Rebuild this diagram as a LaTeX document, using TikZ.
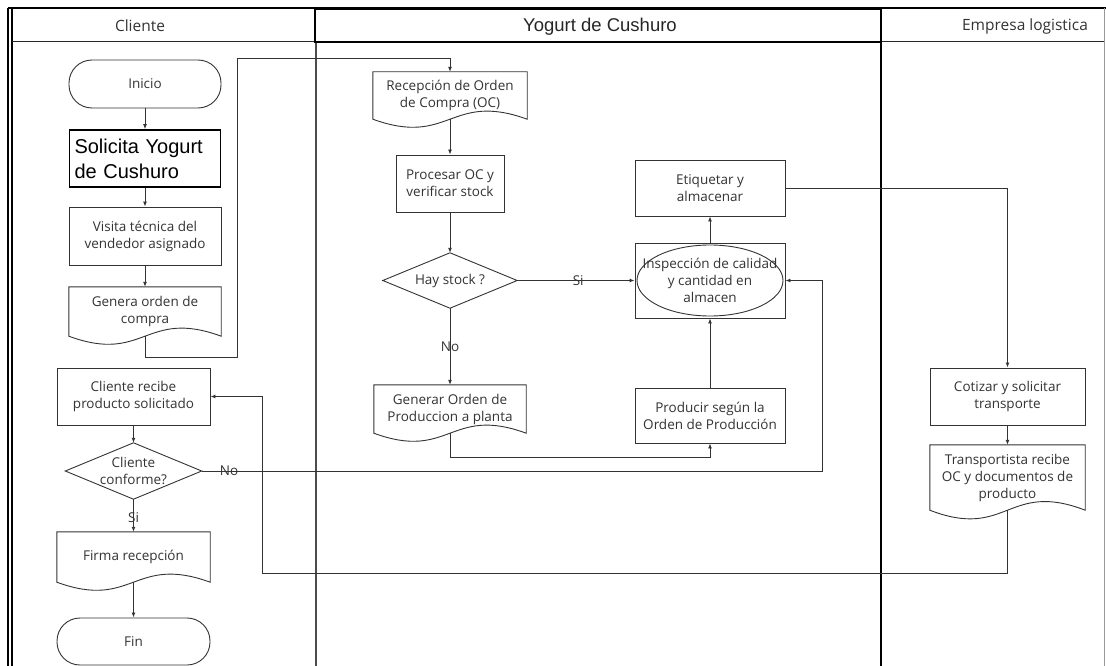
\documentclass[tikz,border=0pt]{standalone}
\usepackage{fontspec}
\setmainfont{Open Sans}
\newfontfamily\arialfont{Liberation Sans}
\usetikzlibrary{arrows.meta,calc}

% document symbol: flat top, wavy bottom edge
\newcommand\docpath[2]{%
  \draw[shapeline] (#1.north west) -- (#1.south west)
    .. controls ($(#1.south)+(0,#2)$) and ($(#1.south)+(0,-#2)$) .. (#1.south east)
    -- (#1.north east) -- cycle;}
% decision symbol drawn on the side midpoints of a plain node
\newcommand\diamondpath[1]{%
  \draw[shapeline] (#1.north) -- (#1.east) -- (#1.south) -- (#1.west) -- cycle;}

\tikzset{
  lbl/.style={font=\fontsize{13.5}{17}\selectfont, text=black!80, align=center, inner sep=0pt},
  shapeline/.style={draw=black!80, line width=0.9pt},
  box/.style={lbl, rectangle, shapeline},
  term/.style={box, rounded corners=23pt},
  plain/.style={lbl, rectangle},
  conn/.style={draw=black!80, line width=0.9pt, -{Latex[length=5pt,width=4pt]}},
  wire/.style={draw=black!80, line width=0.9pt},
  head/.style={font=\fontsize{15.5}{18}\selectfont, text=black!80, inner sep=0pt},
}

\begin{document}
\begin{tikzpicture}[x=1pt,y=-1pt]
\useasboundingbox (0,0) rectangle (1106,666);

% ---- swimlane frame ----
\draw[black, line width=2pt] (8,8) -- (1106,8);
\draw[black, line width=1.2pt] (8,8) -- (8,666);
\draw[black, line width=1.2pt] (12,8) -- (12,666);
\draw[black!85, line width=1pt] (12,42) -- (1104,42);
\draw[black!70, line width=1.4pt] (316,42) -- (316,666);
\draw[black, line width=2pt] (881,9) -- (881,666);
\draw[black!40, line width=0.8pt] (1104.5,8) -- (1104.5,666);
\draw[black, line width=2pt] (315,9) rectangle (881,42);

% ---- lane titles ----
\node[head] (hcli) at (140,26) {Cliente};
\node[font=\arialfont\fontsize{18.5}{22}\selectfont, text=black!85, inner sep=0pt] (hyog) at (600,27) {Yogurt de Cushuro};
\node[head] (hemp) at (1025,26) {Empresa logistica};

% ---- Cliente ----
\node[term, minimum width=152pt, minimum height=48pt] (inicio) at (145,84) {Inicio};
\node[rectangle, draw=black, line width=1.7pt, minimum width=151pt, minimum height=57pt,
      text width=141pt, inner xsep=5pt, inner ysep=0pt, align=left,
      font=\arialfont\fontsize{20}{25}\selectfont] (solicita) at (145,158.5)
      {Solicita Yogurt\\de Cushuro};
\node[box, minimum width=152pt, minimum height=58pt] (visita) at (145,236)
      {Visita técnica del\\vendedor asignado};
\node[plain, minimum width=152pt, minimum height=49pt] (genera) at (145,311.5)
      {Genera orden de\\compra};
\node[box, minimum width=153pt, minimum height=57pt] (recibe) at (133.5,396.5)
      {Cliente recibe\\producto solicitado};
\node[plain, minimum width=136pt, minimum height=56pt] (conforme) at (133.5,471)
      {Cliente\\conforme?};
\node[plain, minimum width=153pt, minimum height=50pt] (firma) at (133.5,557)
      {Firma recepción};
\node[term, minimum width=153pt, minimum height=47pt] (fin) at (133.5,641.5) {Fin};

% ---- Yogurt de Cushuro ----
\node[plain, minimum width=154pt, minimum height=47pt] (recepcion) at (450,95.5)
      {Recepción de Orden\\de Compra (OC)};
\node[box, minimum width=108pt, minimum height=57pt] (procesar) at (450,183.5)
      {Procesar OC y\\verificar stock};
\node[plain, minimum width=134pt, minimum height=55pt] (stock) at (450,280.5)
      {Hay stock ?};
\node[plain, minimum width=152pt, minimum height=48pt] (generar) at (450,409)
      {Generar Orden de\\Produccion a planta};
\node[box, minimum width=150pt, minimum height=56pt] (etiquetar) at (710,188)
      {Etiquetar y\\almacenar};
\node[box, minimum width=150pt, minimum height=75pt] (inspeccion) at (710,280.5)
      {Inspección de calidad\\y cantidad en\\almacen};
\node[box, minimum width=150pt, minimum height=55pt] (producir) at (710,415.5)
      {Producir según la\\Orden de Producción};

% ---- Empresa logistica ----
\node[box, minimum width=155pt, minimum height=57pt] (cotizar) at (1007.5,396.5)
      {Cotizar y solicitar\\transporte};
\node[plain, minimum width=155pt, minimum height=65pt] (transp) at (1007.5,477.5)
      {Transportista recibe\\OC y documentos de\\producto};

% ---- symbol outlines ----
\docpath{genera}{28}
\docpath{firma}{28}
\docpath{recepcion}{28}
\docpath{generar}{28}
\docpath{transp}{30}
\diamondpath{conforme}
\diamondpath{stock}
\draw[shapeline] (inspeccion.center) ellipse [x radius=73pt, y radius=35.5pt];

% ---- connectors ----
\coordinate (gA) at (237,357);
\coordinate (gB) at (237,58);
\coordinate (gp) at (450,457);
\coordinate (tA) at (262,573);
\coordinate (nA) at (822,471);

\draw[conn] (inicio.south) -- (solicita.north);
\draw[conn] (solicita.south) -- (visita.north);
\draw[conn] (visita.south) -- (genera.north);
\draw[conn] (genera.south) |- (gA) -- (gB) -| (recepcion.north);
\draw[conn] (recepcion.south) -- (procesar.north);
\draw[conn] (procesar.south) -- (stock.north);
\draw[conn] (stock.east) -- node[lbl, pos=0.52] (lsi) {Si} (inspeccion.west);
\draw[conn] (stock.south) -- node[lbl, pos=0.5] (lno) {No} (generar.north);
\draw[conn] (generar.south) -- (gp) -| (producir.south);
\draw[conn] (producir.north) -- (inspeccion.south);
\draw[conn] (inspeccion.north) -- (etiquetar.south);
\draw[conn] (etiquetar.east) -| (cotizar.north);
\draw[conn] (cotizar.south) -- (transp.north);
\draw[conn] (transp.south) |- (tA) |- (recibe.east);
\draw[conn] (recibe.south) -- (conforme.north);
\draw[conn] (conforme.east) -- node[lbl, pos=0.044] (lno2) {No} (nA) |- (inspeccion.east);
\draw[conn] (conforme.south) -- node[lbl, pos=0.55] (lsi2) {Si} (firma.north);
\draw[conn] (firma.south) -- (fin.north);
\end{tikzpicture}
\end{document}
